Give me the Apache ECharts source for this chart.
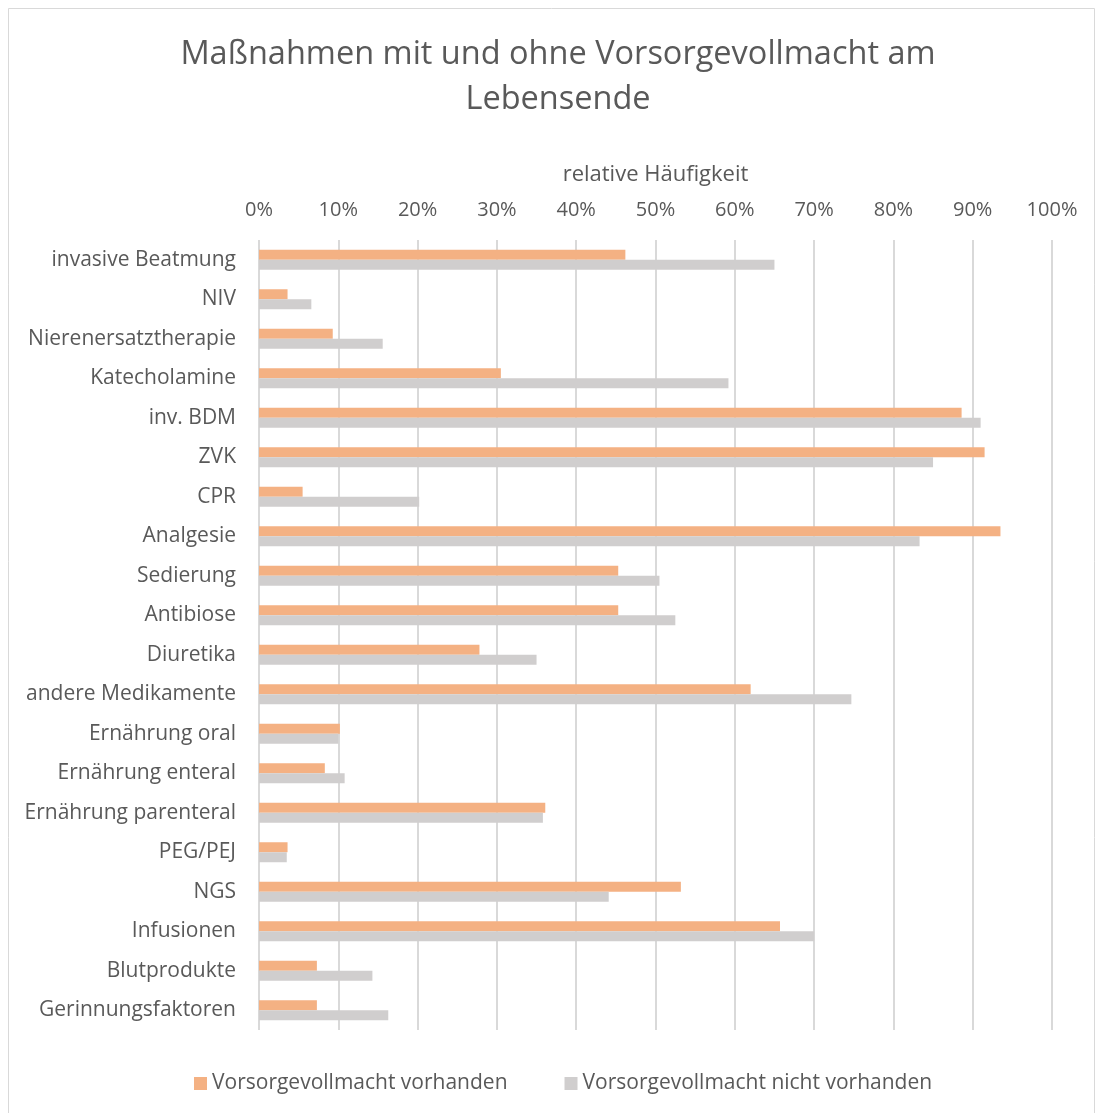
<!DOCTYPE html>
<html>
<head>
<meta charset="utf-8">
<script src="https://cdn.jsdelivr.net/npm/echarts@6/dist/echarts.min.js"></script>
<style>
  html, body { margin: 0; padding: 0; background: #fff; }
  #chart { width: 1096px; height: 1113px; }
</style>
</head>
<body>
<div id="chart"></div>
<script>
const categories = [
  'invasive Beatmung', 'NIV', 'Nierenersatztherapie', 'Katecholamine', 'inv. BDM',
  'ZVK', 'CPR', 'Analgesie', 'Sedierung', 'Antibiose', 'Diuretika',
  'andere Medikamente', 'Ernährung oral', 'Ernährung enteral', 'Ernährung parenteral',
  'PEG/PEJ', 'NGS', 'Infusionen', 'Blutprodukte', 'Gerinnungsfaktoren'
];
const mitVollmacht = [46.2, 3.6, 9.3, 30.5, 88.6, 91.5, 5.5, 93.5, 45.3, 45.3, 27.8,
  62.0, 10.2, 8.3, 36.1, 3.6, 53.2, 65.7, 7.3, 7.3];
const ohneVollmacht = [65.0, 6.6, 15.6, 59.2, 91.0, 85.0, 20.2, 83.3, 50.5, 52.5, 35.0,
  74.7, 10.0, 10.8, 35.8, 3.5, 44.1, 70.0, 14.3, 16.3];
const seriesNames = ['Vorsorgevollmacht vorhanden', 'Vorsorgevollmacht nicht vorhanden'];

const textColor = '#595959';
const font = 'Open Sans';

const chart = echarts.init(document.getElementById('chart'));
const option = {
  backgroundColor: '#fff',
  animation: false,
  textStyle: { fontFamily: font, color: textColor },
  graphic: [{
    type: 'rect',
    shape: { x: 8.5, y: 8.5, width: 1086, height: 1110 },
    style: { fill: 'none', stroke: '#d9d9d9', lineWidth: 1 }
  }],
  title: {
    text: 'Maßnahmen mit und ohne Vorsorgevollmacht am\nLebensende',
    left: 553,
    textAlign: 'center',
    top: 27,
    textStyle: { fontFamily: font, fontSize: 32.5, fontWeight: 'normal', color: textColor, lineHeight: 45 }
  },
  legend: {
    bottom: 14,
    left: 189,
    icon: 'rect',
    itemWidth: 13,
    itemHeight: 13,
    itemGap: 57,
    textStyle: { fontFamily: font, fontSize: 21, color: textColor }
  },
  grid: { left: 259, right: 44, top: 240, bottom: 83 },
  xAxis: {
    type: 'value',
    position: 'top',
    min: 0,
    max: 100,
    interval: 10,
    name: 'relative Häufigkeit',
    nameLocation: 'middle',
    nameGap: 54,
    nameTextStyle: { fontFamily: font, fontSize: 22, color: textColor },
    axisLine: { show: false },
    axisTick: { show: false },
    axisLabel: { formatter: '{value}%', fontSize: 20, color: textColor, margin: 20 },
    splitLine: { lineStyle: { color: '#d9d9d9', width: 2 } }
  },
  yAxis: {
    type: 'category',
    inverse: true,
    data: categories,
    axisLine: { show: false },
    axisTick: { show: false },
    axisLabel: { fontSize: 21, color: textColor, margin: 23 }
  },
  series: [
    { name: seriesNames[0], type: 'bar', data: mitVollmacht, barWidth: 10, barGap: '0%',
      itemStyle: { color: '#f4b183' } },
    { name: seriesNames[1], type: 'bar', data: ohneVollmacht, barWidth: 10, barGap: '0%',
      itemStyle: { color: '#d0cece' } }
  ]
};
chart.setOption(option);
</script>
</body>
</html>
